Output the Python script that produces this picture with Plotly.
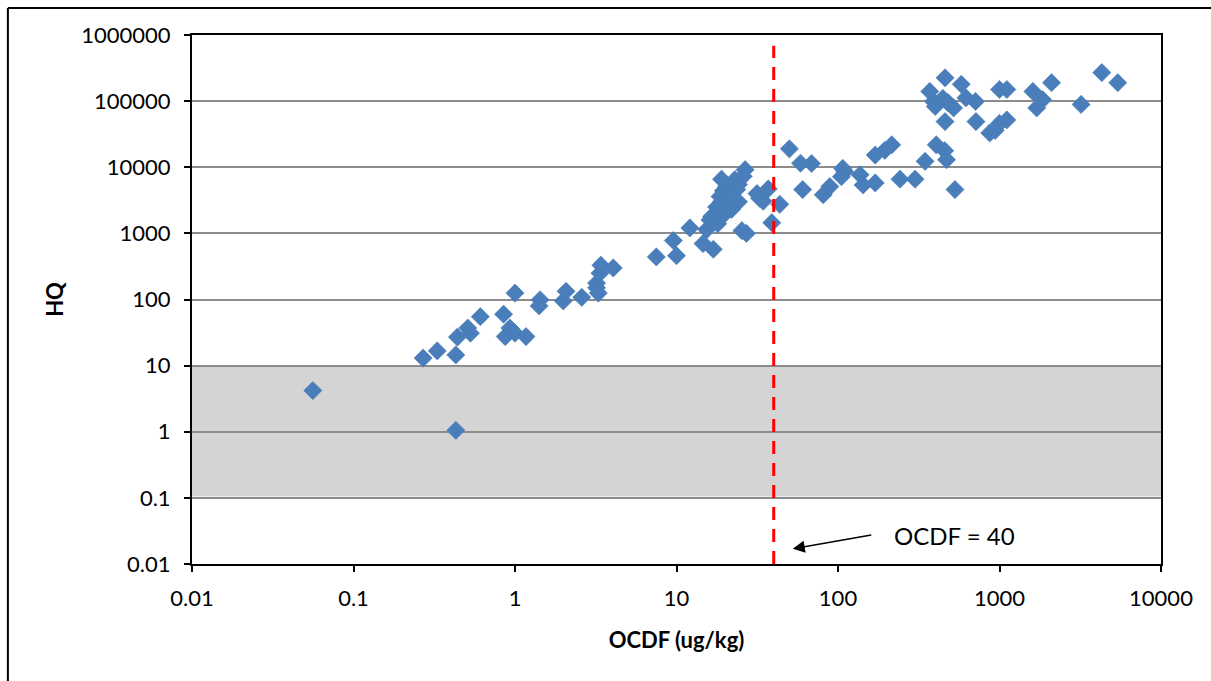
import plotly.graph_objects as go

# OCDF concentration (ug/kg) and hazard quotient for each sample
ocdf = [
    0.056, 0.43, 0.27, 0.33, 0.43, 0.44, 0.51, 0.53, 0.61, 0.85, 0.87, 0.93, 1.0,
    1.17, 1.0, 1.43, 1.41, 2.07, 1.99, 2.59, 3.28, 3.2, 3.36, 3.4, 4.06, 3.2,
    7.5, 9.56, 10.0, 12.1, 14.6, 16.9, 16.1, 15.4, 17.7, 18.6, 19.5, 19.0, 20.4,
    21.9, 22.4, 23.6, 24.2, 25.9, 26.6, 24.2, 25.4, 27.1, 16.5, 18.0, 20.0, 21.0,
    23.0, 19.0,
    32.7, 31.5, 37.0, 34.4, 38.9, 43.6,
    50.0, 58.6, 68.6, 60.4, 81, 89, 107, 105, 110, 137, 143, 170, 170, 195, 215,
    242, 300, 346, 406, 458, 470, 530,
    370, 390, 400, 446, 460, 480, 520, 580, 620, 710, 460, 715,
    870, 940, 1000, 1110, 1000, 1110, 1610, 1700, 1850, 2100, 3200, 4300, 5400,
]
hq = [
    4.2, 1.05, 13, 16.7, 14.5, 27, 37, 31, 55, 60, 27.5, 37, 31,
    27.5, 125, 99, 80, 133, 95, 108, 125, 177, 250, 330, 300, 150,
    440, 780, 460, 1210, 700, 575, 1600, 1140, 2500, 3600, 4400, 6600, 5100,
    2300, 3300, 4600, 5500, 7300, 9200, 3000, 1100, 1000, 1800, 1400, 2000, 2800,
    6500, 3000,
    3400, 4000, 4700, 3060, 1450, 2750,
    19000, 11500, 11400, 4600, 3840, 5100, 9600, 7200, 8600, 7700, 5400, 5800,
    15300, 18000, 21800, 6600, 6600, 12300, 21800, 17800, 13000, 4600,
    140000, 99000, 83000, 110000, 225000, 95000, 79000, 180000, 112000, 99000,
    49000, 49000,
    33000, 36000, 46000, 52000, 150000, 150000, 140000, 79000, 105000, 190000,
    89000, 270000, 190000,
]

x_ticks = [0.01, 0.1, 1, 10, 100, 1000, 10000]
x_tick_text = ["0.01", "0.1", "1", "10", "100", "1000", "10000"]
y_ticks = [0.01, 0.1, 1, 10, 100, 1000, 10000, 100000, 1000000]
y_tick_text = ["0.01", "0.1", "1", "10", "100", "1000", "10000", "100000", "1000000"]

ocdf_threshold = 40
band_low, band_high = 0.105, 10

FONT = "Lato, 'Open Sans', sans-serif"

fig = go.Figure()
fig.add_trace(go.Scatter(
    x=ocdf, y=hq, mode="markers",
    marker=dict(symbol="diamond", size=14, color="#4A7EBB",
                line=dict(width=0.6, color="#4A7EBB")),
    showlegend=False,
))

# shaded HQ band behind the grid
fig.add_shape(type="rect", xref="paper", yref="y", x0=0, x1=1.002,
              y0=band_low, y1=band_high, fillcolor="#D4D4D4",
              line=dict(width=0), layer="below")

# threshold line
fig.add_shape(type="line", xref="x", yref="y", x0=ocdf_threshold, x1=ocdf_threshold,
              y0=0.01, y1=690000, line=dict(color="#FF0000", width=3, dash="13px,9px"))

# outer frame around the whole figure (left and top edges)
fig.add_shape(type="line", xref="paper", yref="paper", x0=-0.19, x1=-0.19,
              y0=1.051, y1=-0.25, line=dict(color="black", width=2))
fig.add_shape(type="line", xref="paper", yref="paper", x0=-0.19, x1=1.06,
              y0=1.051, y1=1.051, line=dict(color="black", width=2))

# arrow pointing at the threshold line
fig.add_annotation(x=1.72, y=-1.77, xref="x", yref="y", text="", showarrow=True,
                   arrowhead=2, arrowsize=1.6, arrowwidth=1.5, arrowcolor="black",
                   ax=80, ay=-14)
fig.add_annotation(x=2.724, y=-1.573, xref="x", yref="y", text="OCDF = 40",
                   showarrow=False, font=dict(family=FONT, size=24, color="black"))

axis_common = dict(
    type="log", showline=True, linecolor="black", linewidth=2, mirror=True,
    ticks="outside", ticklen=6, tickwidth=2, tickcolor="black",
    tickfont=dict(family=FONT, size=22, color="black"), zeroline=False,
)
fig.update_xaxes(**axis_common, range=[-2, 4], tickvals=x_ticks, ticktext=x_tick_text,
                 showgrid=False, ticklabelstandoff=8,
                 title=dict(text="<b>OCDF (ug/kg)</b>", standoff=22,
                            font=dict(family=FONT, size=22, color="black")))
fig.update_yaxes(**axis_common, range=[-2, 6], tickvals=y_ticks, ticktext=y_tick_text,
                 showgrid=True, gridcolor="#8C8C8C", gridwidth=2, ticklabelstandoff=9,
                 title=dict(text="<b>HQ</b>", standoff=12,
                            font=dict(family=FONT, size=22, color="black")))

fig.update_layout(
    width=1211, height=681,
    margin=dict(l=192, r=50, t=35, b=117),
    paper_bgcolor="white", plot_bgcolor="white",
    font=dict(family=FONT, color="black"),
)

fig.write_html("out.html")
